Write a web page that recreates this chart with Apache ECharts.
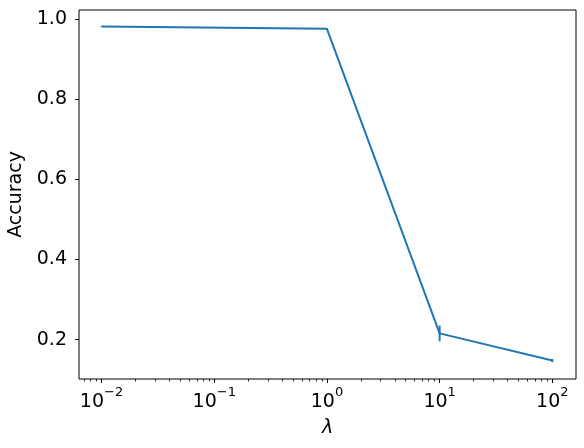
<!DOCTYPE html>
<html>
<head>
<meta charset="utf-8">
<script src="https://cdn.jsdelivr.net/npm/echarts@6/dist/echarts.min.js"></script>
<style>html,body{margin:0;padding:0;background:#fff}#c{width:584px;height:448px}</style>
</head>
<body>
<div id="c"></div>
<script>
var lambdas = [0.01, 1, 10, 100];
var accuracy = [0.981, 0.975, 0.2158, 0.148];
var errors = [0.001, 0.001, 0.0195, 0.004];
var xMajorExponents = [-2, -1, 0, 1, 2];
var xMinorLogTicks = (function () {
  var out = [];
  var decades = [-3, -2, -1, 0, 1, 2];
  var mult = [2, 3, 4, 5, 6, 7, 8, 9];
  decades.forEach(function (d) { mult.forEach(function (m) { out.push(Math.log10(m) + d); }); });
  return out;
})();
var yTicks = [0.2, 0.4, 0.6, 0.8, 1.0];

var xMinLog = -2.2, xMaxLog = 2.21;
var minorInRange = xMinorLogTicks.filter(function (v) { return v >= xMinLog && v <= xMaxLog; });

var chart = echarts.init(document.getElementById('c'), null, { renderer: 'canvas' });
var font = 'DejaVu Sans';
var blue = '#1f77b4';

chart.setOption({
  animation: false,
  backgroundColor: '#fff',
  grid: { left: 79, top: 10, right: 8, bottom: 69, show: true, borderColor: '#000', borderWidth: 1, backgroundColor: 'transparent', containLabel: false, outerBoundsMode: 'none' },
  xAxis: [
    {
      type: 'log', logBase: 10, min: Math.pow(10, xMinLog), max: Math.pow(10, xMaxLog),
      show: false, splitLine: { show: false }, axisLine: { onZero: false }
    },
    {
      type: 'value', min: xMinLog, max: xMaxLog, position: 'bottom',
      axisLine: { show: false, onZero: false }, splitLine: { show: false },
      axisTick: { show: true, inside: false, length: 4, lineStyle: { color: '#000', width: 1 }, customValues: xMajorExponents },
      axisLabel: {
        show: true, margin: 7, customValues: xMajorExponents,
        formatter: function (v) {
          var e = Math.round(v);
          var s = e < 0 ? '\u2212' + (-e) : '' + e;
          return '{b|10}{s|' + s + '}';
        },
        rich: {
          b: { fontFamily: font, fontSize: 19, color: '#000', lineHeight: 26, verticalAlign: 'bottom' },
          s: { fontFamily: font, fontSize: 13, color: '#000', lineHeight: 15, verticalAlign: 'top' }
        }
      },
      name: '\u03bb', nameLocation: 'middle', nameGap: 40,
      nameTextStyle: { fontFamily: font, fontSize: 19, fontStyle: 'italic', color: '#000' }
    },
    {
      type: 'value', min: xMinLog, max: xMaxLog, position: 'bottom',
      axisLine: { show: false, onZero: false }, splitLine: { show: false },
      axisTick: { show: true, inside: false, length: 2.5, lineStyle: { color: '#000', width: 0.8 }, customValues: minorInRange },
      axisLabel: { show: false }
    }
  ],
  yAxis: {
    type: 'value', min: 0.102, max: 1.022, position: 'left',
    axisLine: { show: false, onZero: false }, splitLine: { show: false },
    axisTick: { show: true, inside: false, length: 4, lineStyle: { color: '#000', width: 1 }, customValues: yTicks },
    axisLabel: {
      customValues: yTicks, margin: 12, fontFamily: font, fontSize: 19, color: '#000',
      formatter: function (v) { return v.toFixed(1); }
    },
    name: 'Accuracy', nameLocation: 'middle', nameGap: 51,
    nameTextStyle: { fontFamily: font, fontSize: 19, color: '#000' }
  },
  series: [
    {
      type: 'line', xAxisIndex: 0,
      data: lambdas.map(function (x, i) { return [x, accuracy[i]]; }),
      symbol: 'none', lineStyle: { color: blue, width: 2 }, z: 3
    },
    {
      type: 'custom', xAxisIndex: 0,
      data: lambdas.map(function (x, i) { return [x, accuracy[i], errors[i]]; }),
      renderItem: function (params, api) {
        var x = api.value(0), y = api.value(1), e = api.value(2);
        var p1 = api.coord([x, y - e]);
        var p2 = api.coord([x, y + e]);
        return {
          type: 'line',
          shape: { x1: p1[0], y1: p1[1], x2: p2[0], y2: p2[1] },
          style: { stroke: blue, lineWidth: 2 }
        };
      },
      z: 4
    }
  ]
});
</script>
</body>
</html>
